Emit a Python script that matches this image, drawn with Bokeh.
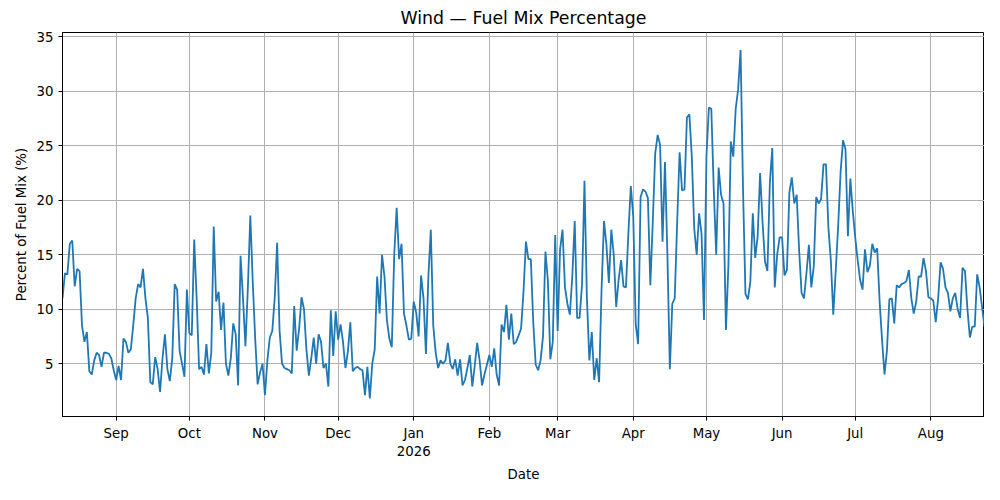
import pandas as pd
from bokeh.plotting import figure
from bokeh.models import FixedTicker, Range1d, ColumnDataSource
from bokeh.embed import file_html
from bokeh.resources import INLINE

start_date = "2025-08-10"
aug25 = [11,13.3,13.2,16,16.3,12.1,13.7,13.5,8.5,7,7.9,4.3,4,5.3,6,5.8,4.7,6,6,5.9,5.5,4.4]
sep25 = [3.5,4.8,3.5,7.3,7,6,6.3,8.5,11,12.3,12,13.7,11,9.2,3.3,3.1,5.6,4.5,2.4,5.5,7.7,4.5,3.4,5.5,12.3,11.8,6.2,5,3.8,11.8]
oct25 = [7.8,7.6,16.4,11,4.5,4.7,4,6.8,4.1,6,17.6,10.7,11.6,8.1,10.6,5,3.9,5.5,8.7,7.7,3,14.9,11,6.6,12,18.6,12.5,7.3,3.1,4.2,5]
nov25 = [2.1,5.3,7.4,8,11,16.1,8,5,4.6,4.5,4.4,4.1,10.3,6.2,8.2,11.1,10,6.3,3.9,5.5,7.4,5,7.7,7,4.6,5,2.9,9.9,5.7,9.8]
dec25 = [7.2,8.6,7,4.6,6.1,8.8,4.3,4.6,4.7,4.5,4.4,2.1,4.7,1.8,5,6.3,13,9.6,15,13,9,7.3,6.5,15,19.3,14.6,16,9.6,8.5,7.2,7.3]
jan26 = [10.7,9.7,7.5,13.1,11,5.9,13,17.3,8.5,6,4.6,5.3,5,5.3,6.9,5,4.5,5.4,3.9,5.4,3,3.5,4.6,5.8,2.9,4.8,6.9,5.3,3,4,4.9]
feb26 = [5.8,4.7,6.4,4,3,8.6,7.9,10.4,7.2,9.6,6.8,7,7.6,8.2,11.6,16.2,14.6,14.6,8.8,4.9,4.4,5.3,7.5,15.3,12.6,5.4,7,16.8]
mar26 = [8,15.5,17.3,12,10.5,9.5,13,18.1,9.2,9.2,12.3,21.8,11,5.3,7.9,3.5,5.5,3.3,11.8,18.1,15.9,12.4,17.3,15,10.2,12.7,14.5,12.1,12,17,21.3]
apr26 = [18.5,8.6,6.8,20.3,21,20.8,20.2,12.2,18,24.3,26,25.1,16.2,23.5,15,4.5,10.5,11,18,24.4,20.9,21,27.6,27.9,24,17.4,15,18.8,16.9,9]
may26 = [24,28.5,28.4,21,15,23,20.5,19.7,8.1,14,25.4,24,28.4,30.2,33.8,21,11.4,10.9,12.5,18.8,14.7,16.7,22.5,18,14.4,13.5,21.6,24.8,12,15,16.6]
jun26 = [16.6,13.1,13.6,20.7,22.1,19.7,20.5,15.4,11.5,11,13.3,15.9,12,13.9,20.3,19.7,20.1,23.3,23.3,17.5,14.5,9.5,13.5,17.6,22.6,25.5,24.7,16.7,22,19]
jul26 = [16.6,14.5,12.7,11.8,15.5,13.4,14,16,15.2,15.6,10.7,7.2,4,6.2,10.9,11,8.7,12.2,12,12.3,12.4,12.6,13.6,11,9.6,10.7,13,13,14.7,13.5,11.1]
aug26 = [11,10.8,8.8,11,14.3,13.7,12,11.5,9.8,11,11.5,10,9.2,13.8,13.5,10,7.4,8.4,8.4,13.2,12,10.2,8.4]

values = aug25+sep25+oct25+nov25+dec25+jan26+feb26+mar26+apr26+may26+jun26+jul26+aug26
dates = pd.date_range(start_date, periods=len(values), freq="D")

tick_dates = pd.date_range("2025-09-01", "2026-08-01", freq="MS")
tick_labels = [d.strftime("%b") + ("\n2026" if d.month == 1 else "") for d in tick_dates]
tick_ms = [int(d.value // 10**6) for d in tick_dates]

p = figure(width=984, height=484, x_axis_type="datetime", output_backend="svg",
           toolbar_location=None, title="Wind — Fuel Mix Percentage",
           x_axis_label="Date", y_axis_label="Percent of Fuel Mix (%)")
src = ColumnDataSource(dict(x=dates, y=values))
p.line("x", "y", source=src, line_color="#1f77b4", line_width=1.8)
p.x_range = Range1d(dates[0], dates[-1])
p.y_range = Range1d(0.15, 35.4)
p.xaxis.ticker = FixedTicker(ticks=tick_ms)
p.xaxis.major_label_overrides = {t: l for t, l in zip(tick_ms, tick_labels)}
p.yaxis.ticker = FixedTicker(ticks=[5, 10, 15, 20, 25, 30, 35])
p.title.align = "center"
p.title.text_font_style = "normal"
p.title.text_font_size = "13pt"
p.title.text_font = "DejaVu Sans"
p.title.text_color = "black"
for ax in (p.xaxis, p.yaxis):
    ax.axis_label_text_font = "DejaVu Sans"
    ax.axis_label_text_font_style = "normal"
    ax.axis_label_text_font_size = "10pt"
    ax.axis_label_text_color = "black"
    ax.major_label_text_font = "DejaVu Sans"
    ax.major_label_text_font_size = "10pt"
    ax.major_label_text_color = "black"
    ax.axis_line_color = "black"
    ax.major_tick_line_color = "black"
    ax.minor_tick_line_color = None
    ax.major_tick_in = 0
    ax.major_tick_out = 4
p.grid.grid_line_color = "#b0b0b0"
p.grid.grid_line_width = 1
p.outline_line_color = "black"
p.outline_line_alpha = 1
p.min_border_left = 62
p.min_border_right = 0
p.min_border_top = 6
p.min_border_bottom = 50
p.background_fill_color = "white"

open("out.html", "w").write(file_html(p, INLINE))
